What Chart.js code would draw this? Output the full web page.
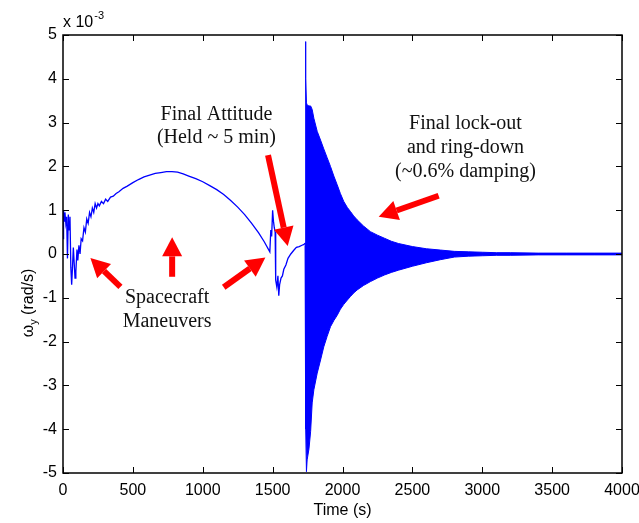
<!DOCTYPE html>
<html>
<head>
<meta charset="utf-8">
<script src="https://cdn.jsdelivr.net/npm/chart.js@4/dist/chart.umd.min.js"></script>
<style>
  body { margin: 0; background: #fff; }
  #wrap { width: 639px; height: 523px; position: relative; }
</style>
</head>
<body>
<div id="wrap"><canvas id="rateChart"></canvas></div>
<script>
// Angular rate about y, in units of 1e-3 rad/s

// Maneuvers and final attitude hold (before lock-out)
const traceT = [0, 4, 8, 14, 20, 26, 32, 38, 44, 50, 56, 62, 68, 74, 80, 86, 92, 100, 106, 114, 122, 130, 140, 150, 160, 170, 180, 190, 200, 210, 220, 230, 240, 250, 260, 275, 290, 305, 320, 340, 360, 380, 400, 430, 460, 500, 540, 580, 620, 660, 700, 740, 780, 820, 860, 900, 950, 1000, 1050, 1100, 1150, 1200, 1250, 1300, 1350, 1400, 1440, 1480, 1487, 1493, 1500, 1506, 1512, 1518, 1522, 1530, 1538, 1544, 1550, 1560, 1570, 1580, 1595, 1610, 1630, 1650, 1670, 1690, 1710, 1725, 1732];
const traceV = [0.35, 1.0, 0.75, 0.95, 0.7, 0.85, -0.1, 0.9, 0.55, 0.85, -0.3, -0.7, -0.3, 0.15, -0.2, -0.55, -0.4, 0.1, -0.15, 0.2, 0.0, 0.35, 0.3, 0.6, 0.5, 0.8, 0.7, 0.95, 0.85, 1.05, 0.95, 1.15, 1.05, 1.15, 1.1, 1.2, 1.15, 1.25, 1.2, 1.3, 1.32, 1.38, 1.42, 1.5, 1.55, 1.63, 1.7, 1.76, 1.8, 1.84, 1.86, 1.88, 1.88, 1.87, 1.83, 1.78, 1.72, 1.65, 1.56, 1.47, 1.36, 1.22, 1.07, 0.9, 0.7, 0.48, 0.28, 0.05, 0.55, 0.4, 1.0, 0.75, 0.6, 0.5, -0.6, -0.75, -0.5, -0.95, -0.7, -0.55, -0.5, -0.35, -0.25, -0.1, 0.0, 0.08, 0.15, 0.17, 0.2, 0.22, 0.25];

// Lock-out ring-down: upper and lower peaks of the oscillation
const ringT = [1732, 1735, 1738, 1742, 1747, 1760, 1772, 1783, 1795, 1819, 1843, 1866, 1890, 1914, 1938, 1962, 1985, 2009, 2035, 2057, 2080, 2105, 2150, 2200, 2250, 2300, 2350, 2400, 2500, 2600, 2700, 2800, 2900, 3000, 3100, 3200, 3400, 3600, 3800, 4000];
const ringUpper = [0.25, 4.85, 4.0, 3.45, 3.4, 3.38, 3.38, 3.3, 3.1, 2.8, 2.6, 2.4, 2.2, 2.0, 1.78, 1.58, 1.38, 1.2, 1.06, 0.97, 0.87, 0.78, 0.64, 0.51, 0.43, 0.36, 0.29, 0.24, 0.17, 0.12, 0.09, 0.06, 0.05, 0.04, 0.03, 0.03, 0.02, 0.02, 0.02, 0.02];
const ringLower = [0.2, 0.0, -4.0, -4.97, -4.7, -4.45, -4.05, -3.4, -3.1, -2.72, -2.42, -2.12, -1.88, -1.66, -1.52, -1.4, -1.26, -1.15, -1.05, -0.97, -0.89, -0.82, -0.72, -0.63, -0.55, -0.48, -0.42, -0.37, -0.28, -0.2, -0.13, -0.07, -0.05, -0.04, -0.03, -0.03, -0.02, -0.02, -0.02, -0.02];

const xTicks = [0, 500, 1000, 1500, 2000, 2500, 3000, 3500, 4000];
const yTicks = [-5, -4, -3, -2, -1, 0, 1, 2, 3, 4, 5];

const BLUE = '#0000ff';
const RED = '#ff0000';
const SANS = '"Liberation Sans", Arial, sans-serif';
const SERIF = '"Liberation Serif", "Times New Roman", serif';

const toPts = (ts, vs) => ts.map((t, i) => ({ x: t, y: vs[i] }));

// text notes and arrows, placed in data units
const notes = [
  { t: 1098, v: 3.06, text: 'Final Attitude' },
  { t: 1098, v: 2.53, text: '(Held ~ 5 min)' },
  { t: 2880, v: 2.85, text: 'Final lock-out' },
  { t: 2880, v: 2.30, text: 'and ring-down' },
  { t: 2880, v: 1.75, text: '(~0.6% damping)' },
  { t: 745, v: -1.12, text: 'Spacecraft' },
  { t: 745, v: -1.67, text: 'Maneuvers' }
];
const arrows = [
  [411, -0.75, 196, -0.09],
  [781, -0.52, 781, 0.38],
  [1150, -0.76, 1448, -0.08],
  [1467, 2.26, 1608, 0.18],
  [2688, 1.33, 2259, 0.85]
];

const matlabLook = {
  id: 'matlabLook',
  afterDraw(chart) {
    const ctx = chart.ctx;
    const a = chart.chartArea;
    const xs = chart.scales.x, ys = chart.scales.y;
    ctx.save();

    // axes box with inward ticks
    ctx.strokeStyle = '#000';
    ctx.lineWidth = 1.5;
    ctx.strokeRect(a.left, a.top, a.right - a.left, a.bottom - a.top);
    ctx.lineWidth = 1;
    ctx.beginPath();
    xTicks.forEach(t => {
      const px = Math.round(xs.getPixelForValue(t)) + 0.5;
      ctx.moveTo(px, a.bottom); ctx.lineTo(px, a.bottom - 6);
      ctx.moveTo(px, a.top); ctx.lineTo(px, a.top + 6);
    });
    yTicks.forEach(v => {
      const py = Math.round(ys.getPixelForValue(v)) + 0.5;
      ctx.moveTo(a.left, py); ctx.lineTo(a.left + 6, py);
      ctx.moveTo(a.right, py); ctx.lineTo(a.right - 6, py);
    });
    ctx.stroke();

    // exponent label
    ctx.fillStyle = '#000';
    ctx.textBaseline = 'alphabetic';
    ctx.textAlign = 'left';
    ctx.font = '16px ' + SANS;
    ctx.fillText('x 10', a.left, 27);
    const w10 = ctx.measureText('x 10').width;
    ctx.font = '11px ' + SANS;
    ctx.fillText('-3', a.left + w10 + 1, 19);

    // y title with subscript
    ctx.save();
    ctx.translate(33, 303);
    ctx.rotate(-Math.PI / 2);
    ctx.font = '16px ' + SANS;
    const wO = ctx.measureText('\u03c9').width;
    const wR = ctx.measureText(' (rad/s)').width;
    ctx.font = '11px ' + SANS;
    const wY = ctx.measureText('y').width;
    let x0 = -(wO + wY + wR) / 2;
    ctx.font = '16px ' + SANS;
    ctx.fillText('\u03c9', x0, 0);
    ctx.font = '11px ' + SANS;
    ctx.fillText('y', x0 + wO, 4);
    ctx.font = '16px ' + SANS;
    ctx.fillText(' (rad/s)', x0 + wO + wY, 0);
    ctx.restore();

    // annotations
    ctx.fillStyle = '#111';
    ctx.textAlign = 'center';
    ctx.font = '20px ' + SERIF;
    notes.forEach(n => {
      ctx.fillText(n.text, xs.getPixelForValue(n.t), ys.getPixelForValue(n.v));
    });

    ctx.fillStyle = RED;
    ctx.strokeStyle = RED;
    arrows.forEach(([t0, v0, t1, v1]) => {
      const x1 = xs.getPixelForValue(t0), y1 = ys.getPixelForValue(v0);
      const x2 = xs.getPixelForValue(t1), y2 = ys.getPixelForValue(v1);
      const ang = Math.atan2(y2 - y1, x2 - x1);
      const headLen = 19, headW = 10;
      const bx = x2 - headLen * Math.cos(ang), by = y2 - headLen * Math.sin(ang);
      ctx.lineWidth = 6;
      ctx.beginPath();
      ctx.moveTo(x1, y1);
      ctx.lineTo(bx, by);
      ctx.stroke();
      ctx.beginPath();
      ctx.moveTo(x2, y2);
      ctx.lineTo(bx + headW * Math.sin(ang), by - headW * Math.cos(ang));
      ctx.lineTo(bx - headW * Math.sin(ang), by + headW * Math.cos(ang));
      ctx.closePath();
      ctx.fill();
    });
    ctx.restore();
  }
};

const ctx = document.getElementById('rateChart').getContext('2d');

const rateChart = new Chart(ctx, {
  type: 'line',
  data: {
    datasets: [
      {
        label: 'maneuvers',
        data: toPts(traceT, traceV),
        borderColor: BLUE,
        borderWidth: 1.3,
        pointRadius: 0,
        fill: false
      },
      {
        label: 'ring-down upper',
        data: toPts(ringT, ringUpper),
        borderColor: BLUE,
        backgroundColor: BLUE,
        borderWidth: 1,
        pointRadius: 0,
        fill: '+1'
      },
      {
        label: 'ring-down lower',
        data: toPts(ringT, ringLower),
        borderColor: BLUE,
        borderWidth: 1,
        pointRadius: 0,
        fill: false
      }
    ]
  },
  options: {
    responsive: true,
    maintainAspectRatio: false,
    animation: false,
    layout: { padding: { top: 35, right: 17, left: 0, bottom: 0 } },
    plugins: {
      legend: { display: false },
      tooltip: { enabled: false }
    },
    scales: {
      x: {
        type: 'linear',
        min: 0,
        max: 4000,
        afterBuildTicks: s => { s.ticks = xTicks.map(v => ({ value: v })); },
        ticks: { color: '#000', padding: 8, font: { size: 16, family: SANS }, maxRotation: 0, autoSkip: false, callback: v => String(v) },
        grid: { display: false, drawTicks: false },
        border: { display: false },
        title: { display: true, text: 'Time (s)', color: '#000', font: { size: 16, family: SANS }, padding: { top: 0, bottom: 3 } },
        afterFit: s => { s.height = 50; s.paddingLeft = 0; s.paddingRight = 0; }
      },
      y: {
        min: -5,
        max: 5,
        afterBuildTicks: s => { s.ticks = yTicks.map(v => ({ value: v })); },
        ticks: { color: '#000', padding: 6, font: { size: 16, family: SANS }, callback: v => String(v) },
        grid: { display: false, drawTicks: false },
        border: { display: false },
        afterFit: s => { s.width = 63; s.paddingTop = 0; s.paddingBottom = 0; }
      }
    }
  },
  plugins: [matlabLook]
});
</script>
</body>
</html>
